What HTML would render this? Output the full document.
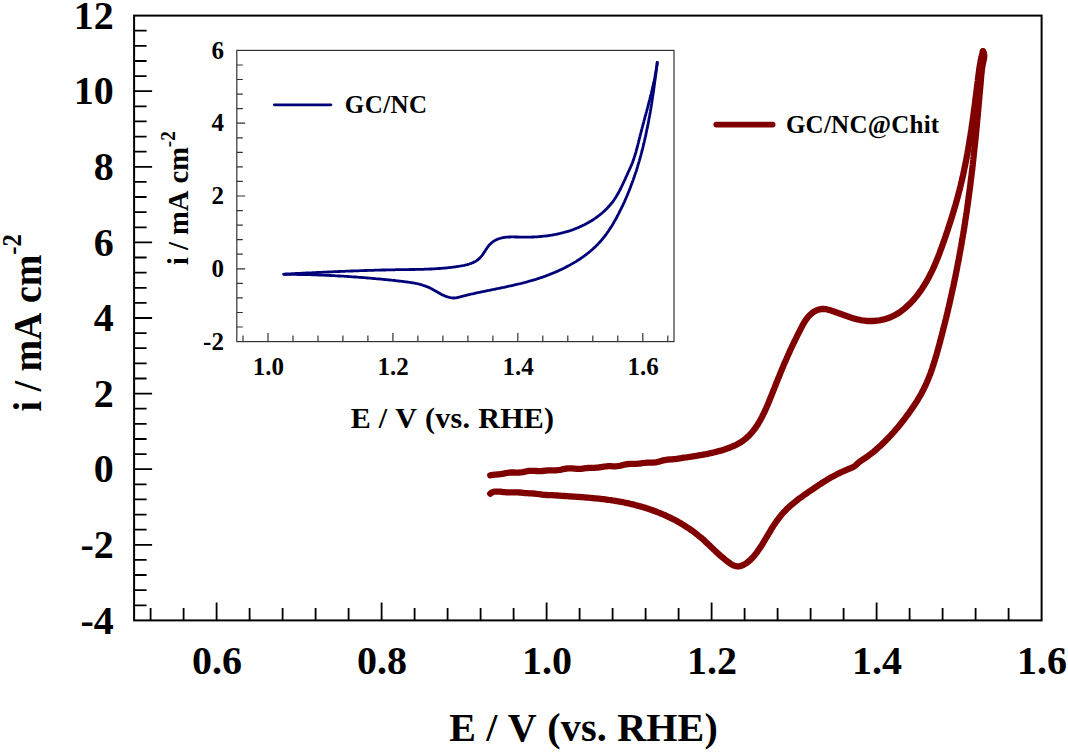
<!DOCTYPE html>
<html><head><meta charset="utf-8"><style>
html,body{margin:0;padding:0;background:#fff;}
svg{display:block;}
.t{font-family:'Liberation Serif', serif;font-weight:bold;fill:#000;font-kerning:none;}
</style></head><body>
<svg width="1068" height="752" viewBox="0 0 1068 752">
<rect x="134.1" y="15.6" width="907.5" height="604.8" fill="none" stroke="#000" stroke-width="2"/>
<path d="M150.6,620.4V607.9 M183.6,620.4V607.9 M216.6,620.4V602.4 M249.6,620.4V607.9 M282.6,620.4V607.9 M315.6,620.4V607.9 M348.6,620.4V607.9 M381.6,620.4V602.4 M414.6,620.4V607.9 M447.6,620.4V607.9 M480.6,620.4V607.9 M513.6,620.4V607.9 M546.6,620.4V602.4 M579.6,620.4V607.9 M612.6,620.4V607.9 M645.6,620.4V607.9 M678.6,620.4V607.9 M711.6,620.4V602.4 M744.6,620.4V607.9 M777.6,620.4V607.9 M810.6,620.4V607.9 M843.6,620.4V607.9 M876.6,620.4V602.4 M909.6,620.4V607.9 M942.6,620.4V607.9 M975.6,620.4V607.9 M1008.6,620.4V607.9 M134.1,605.3H146.6 M134.1,590.2H146.6 M134.1,575.0H146.6 M134.1,559.9H146.6 M134.1,544.8H152.1 M134.1,529.7H146.6 M134.1,514.6H146.6 M134.1,499.4H146.6 M134.1,484.3H146.6 M134.1,469.2H152.1 M134.1,454.1H146.6 M134.1,439.0H146.6 M134.1,423.8H146.6 M134.1,408.7H146.6 M134.1,393.6H152.1 M134.1,378.5H146.6 M134.1,363.4H146.6 M134.1,348.2H146.6 M134.1,333.1H146.6 M134.1,318.0H152.1 M134.1,302.9H146.6 M134.1,287.8H146.6 M134.1,272.6H146.6 M134.1,257.5H146.6 M134.1,242.4H152.1 M134.1,227.3H146.6 M134.1,212.2H146.6 M134.1,197.0H146.6 M134.1,181.9H146.6 M134.1,166.8H152.1 M134.1,151.7H146.6 M134.1,136.6H146.6 M134.1,121.4H146.6 M134.1,106.3H146.6 M134.1,91.2H152.1 M134.1,76.1H146.6 M134.1,61.0H146.6 M134.1,45.8H146.6 M134.1,30.7H146.6" stroke="#000" stroke-width="1.8" fill="none"/>
<text x="216.9" y="674.4" text-anchor="middle" class="t" style="font-size:40px">0.6</text>
<text x="381.9" y="674.4" text-anchor="middle" class="t" style="font-size:40px">0.8</text>
<text x="546.9" y="674.4" text-anchor="middle" class="t" style="font-size:40px">1.0</text>
<text x="711.9" y="674.4" text-anchor="middle" class="t" style="font-size:40px">1.2</text>
<text x="876.9" y="674.4" text-anchor="middle" class="t" style="font-size:40px">1.4</text>
<text x="1041.9" y="674.4" text-anchor="middle" class="t" style="font-size:40px">1.6</text>
<text x="113.8" y="633.6" text-anchor="end" class="t" style="font-size:40px">-4</text>
<text x="113.8" y="558.0" text-anchor="end" class="t" style="font-size:40px">-2</text>
<text x="113.8" y="482.4" text-anchor="end" class="t" style="font-size:40px">0</text>
<text x="113.8" y="406.8" text-anchor="end" class="t" style="font-size:40px">2</text>
<text x="113.8" y="331.2" text-anchor="end" class="t" style="font-size:40px">4</text>
<text x="113.8" y="255.6" text-anchor="end" class="t" style="font-size:40px">6</text>
<text x="113.8" y="180.0" text-anchor="end" class="t" style="font-size:40px">8</text>
<text x="113.8" y="104.4" text-anchor="end" class="t" style="font-size:40px">10</text>
<text x="113.8" y="28.8" text-anchor="end" class="t" style="font-size:40px">12</text>
<text x="449.2" y="740.5" class="t" style="font-size:40px;letter-spacing:0.22px">E / V (vs. RHE)</text>
<text transform="translate(40.8,411.4) rotate(-90)" class="t" style="font-size:40px" textLength="156.7" lengthAdjust="spacingAndGlyphs">i / mA cm</text>
<text transform="translate(21.3,254.7) rotate(-90)" class="t" style="font-size:27px" textLength="20.6" lengthAdjust="spacingAndGlyphs">-2</text>
<path d="M490.2,475.3 L491.6,475.0 L493.1,474.8 L494.6,474.7 L496.1,474.6 L497.5,474.4 L499.0,474.3 L500.5,474.1 L502.0,473.9 L503.5,473.6 L505.0,473.3 L506.5,473.0 L507.9,472.8 L509.4,472.6 L510.9,472.5 L512.4,472.5 L513.9,472.5 L515.4,472.6 L516.9,472.6 L518.4,472.6 L519.9,472.5 L521.3,472.3 L522.8,472.1 L524.3,471.8 L525.8,471.5 L527.3,471.2 L528.8,470.9 L530.3,470.8 L531.8,470.8 L533.3,470.8 L534.8,470.9 L536.3,471.0 L537.8,471.1 L539.3,471.1 L540.8,471.1 L542.3,471.0 L543.8,470.9 L545.3,470.7 L546.8,470.5 L548.3,470.4 L549.8,470.3 L551.3,470.3 L552.8,470.3 L554.3,470.3 L555.8,470.3 L557.3,470.2 L558.8,470.0 L560.3,469.8 L561.7,469.5 L563.2,469.2 L564.7,468.9 L566.2,468.6 L567.7,468.4 L569.2,468.3 L570.7,468.3 L572.2,468.4 L573.7,468.6 L575.2,468.7 L576.7,468.8 L578.2,468.9 L579.7,468.9 L581.2,468.8 L582.7,468.6 L584.2,468.4 L585.7,468.2 L587.2,468.0 L588.7,467.9 L590.2,467.8 L591.7,467.8 L593.2,467.8 L594.7,467.8 L596.2,467.7 L597.7,467.6 L599.2,467.4 L600.7,467.2 L602.2,467.0 L603.6,466.7 L605.1,466.5 L606.6,466.3 L608.1,466.2 L609.6,466.2 L611.1,466.2 L612.6,466.3 L614.1,466.3 L615.6,466.3 L617.1,466.2 L618.6,466.0 L620.1,465.8 L621.6,465.4 L623.1,465.0 L624.5,464.7 L626.0,464.4 L627.5,464.1 L629.0,464.0 L630.5,463.9 L632.0,463.9 L633.5,463.9 L635.0,463.9 L636.5,463.8 L638.0,463.7 L639.5,463.6 L640.9,463.4 L642.4,463.2 L643.9,463.0 L645.4,462.8 L646.9,462.7 L648.4,462.7 L649.9,462.6 L651.4,462.6 L652.9,462.6 L654.3,462.5 L655.8,462.3 L657.3,462.0 L658.8,461.7 L660.3,461.3 L661.8,460.8 L663.3,460.4 L664.7,460.1 L666.2,459.8 L667.7,459.6 L669.2,459.5 L670.7,459.4 L672.2,459.4 L673.7,459.2 L675.1,459.1 L676.6,458.9 L678.1,458.7 L679.6,458.4 L681.1,458.2 L682.6,457.9 L684.0,457.7 L685.5,457.5 L687.0,457.3 L688.5,457.0 L690.0,456.8 L691.4,456.6 L692.9,456.4 L694.4,456.1 L695.9,455.9 L697.4,455.6 L698.8,455.4 L700.3,455.1 L701.8,454.9 L703.3,454.6 L704.7,454.3 L706.2,454.1 L707.7,453.8 L709.1,453.5 L710.6,453.2 L712.1,452.8 L713.5,452.5 L715.0,452.2 L716.4,451.8 L717.9,451.4 L719.3,451.0 L720.8,450.6 L722.2,450.2 L723.7,449.7 L725.1,449.3 L726.5,448.8 L728.0,448.3 L729.4,447.8 L730.8,447.2 L732.2,446.6 L733.6,446.0 L735.0,445.4 L736.4,444.7 L737.7,444.0 L739.0,443.3 L740.3,442.5 L741.6,441.7 L742.8,440.9 L744.0,440.0 L745.1,439.1 L746.2,438.2 L747.3,437.2 L748.4,436.2 L749.4,435.2 L750.4,434.1 L751.4,433.0 L752.4,431.9 L753.3,430.7 L754.2,429.6 L755.1,428.4 L755.9,427.2 L756.7,426.0 L757.6,424.7 L758.3,423.4 L759.1,422.2 L759.9,420.9 L760.6,419.5 L761.3,418.2 L762.0,416.9 L762.7,415.5 L763.4,414.1 L764.1,412.8 L764.7,411.4 L765.3,410.0 L766.0,408.6 L766.6,407.2 L767.2,405.8 L767.8,404.4 L768.4,403.0 L769.0,401.5 L769.6,400.1 L770.1,398.7 L770.7,397.3 L771.3,395.9 L771.8,394.5 L772.4,393.1 L773.0,391.7 L773.5,390.3 L774.1,388.9 L774.6,387.5 L775.2,386.1 L775.7,384.7 L776.3,383.3 L776.8,382.0 L777.4,380.6 L777.9,379.2 L778.5,377.8 L779.1,376.4 L779.6,375.1 L780.2,373.7 L780.7,372.3 L781.3,371.0 L781.8,369.6 L782.4,368.2 L783.0,366.9 L783.5,365.5 L784.1,364.1 L784.7,362.8 L785.3,361.4 L785.9,360.0 L786.5,358.7 L787.1,357.3 L787.7,356.0 L788.3,354.6 L788.9,353.3 L789.5,351.9 L790.1,350.5 L790.7,349.2 L791.4,347.8 L792.0,346.5 L792.7,345.1 L793.3,343.8 L794.0,342.4 L794.6,341.0 L795.3,339.7 L796.0,338.3 L796.6,337.0 L797.3,335.6 L798.0,334.2 L798.7,332.8 L799.4,331.5 L800.1,330.1 L800.8,328.7 L801.5,327.4 L802.2,326.0 L802.9,324.6 L803.7,323.3 L804.5,322.0 L805.3,320.7 L806.1,319.5 L807.0,318.3 L807.9,317.1 L808.9,316.0 L809.9,315.0 L811.0,314.0 L812.1,313.1 L813.3,312.2 L814.5,311.4 L815.8,310.7 L817.2,310.1 L818.5,309.6 L819.9,309.3 L821.4,309.0 L822.8,308.9 L824.3,309.0 L825.8,309.2 L827.2,309.5 L828.7,309.9 L830.2,310.3 L831.6,310.8 L833.1,311.3 L834.5,311.8 L836.0,312.3 L837.4,312.8 L838.8,313.3 L840.2,313.8 L841.6,314.3 L843.0,314.8 L844.4,315.3 L845.8,315.8 L847.2,316.3 L848.7,316.8 L850.1,317.3 L851.5,317.7 L852.9,318.2 L854.4,318.6 L855.8,319.0 L857.2,319.4 L858.7,319.7 L860.2,320.0 L861.6,320.3 L863.1,320.5 L864.6,320.7 L866.1,320.9 L867.6,321.0 L869.1,321.0 L870.6,321.0 L872.1,321.0 L873.6,321.0 L875.1,320.9 L876.6,320.7 L878.1,320.5 L879.6,320.3 L881.1,320.0 L882.5,319.7 L884.0,319.4 L885.4,319.0 L886.9,318.5 L888.3,318.0 L889.7,317.5 L891.1,317.0 L892.4,316.3 L893.8,315.7 L895.1,315.0 L896.4,314.3 L897.7,313.5 L899.0,312.7 L900.2,311.9 L901.4,311.0 L902.6,310.1 L903.8,309.2 L905.0,308.2 L906.1,307.2 L907.2,306.2 L908.3,305.2 L909.4,304.2 L910.5,303.1 L911.5,302.0 L912.5,300.9 L913.6,299.8 L914.5,298.6 L915.5,297.5 L916.5,296.3 L917.4,295.1 L918.3,293.9 L919.2,292.7 L920.1,291.5 L920.9,290.3 L921.8,289.1 L922.6,287.8 L923.4,286.6 L924.2,285.3 L925.0,284.1 L925.7,282.8 L926.5,281.5 L927.2,280.2 L927.9,278.9 L928.7,277.6 L929.3,276.3 L930.0,274.9 L930.7,273.6 L931.4,272.3 L932.0,270.9 L932.7,269.6 L933.3,268.2 L933.9,266.9 L934.5,265.5 L935.1,264.1 L935.7,262.7 L936.3,261.3 L936.8,260.0 L937.4,258.6 L938.0,257.2 L938.5,255.8 L939.1,254.4 L939.6,253.0 L940.1,251.5 L940.6,250.1 L941.2,248.7 L941.7,247.3 L942.2,245.9 L942.7,244.5 L943.2,243.0 L943.7,241.6 L944.2,240.2 L944.7,238.8 L945.2,237.4 L945.7,235.9 L946.1,234.5 L946.6,233.1 L947.1,231.7 L947.6,230.2 L948.0,228.8 L948.5,227.4 L949.0,226.0 L949.4,224.5 L949.9,223.1 L950.4,221.7 L950.8,220.2 L951.3,218.8 L951.7,217.4 L952.2,216.0 L952.6,214.5 L953.0,213.1 L953.5,211.7 L953.9,210.2 L954.3,208.8 L954.7,207.4 L955.2,205.9 L955.6,204.5 L956.0,203.0 L956.4,201.6 L956.8,200.2 L957.2,198.7 L957.6,197.3 L958.0,195.8 L958.4,194.4 L958.7,192.9 L959.1,191.5 L959.5,190.1 L959.9,188.6 L960.2,187.2 L960.6,185.7 L960.9,184.3 L961.3,182.8 L961.6,181.3 L962.0,179.9 L962.3,178.4 L962.6,177.0 L963.0,175.5 L963.3,174.1 L963.6,172.6 L963.9,171.1 L964.2,169.7 L964.5,168.2 L964.8,166.7 L965.1,165.3 L965.4,163.8 L965.7,162.3 L966.0,160.9 L966.3,159.4 L966.6,157.9 L966.8,156.4 L967.1,155.0 L967.4,153.5 L967.6,152.0 L967.9,150.6 L968.2,149.1 L968.4,147.6 L968.7,146.1 L968.9,144.6 L969.2,143.2 L969.4,141.7 L969.6,140.2 L969.9,138.7 L970.1,137.3 L970.4,135.8 L970.6,134.3 L970.8,132.8 L971.0,131.3 L971.3,129.8 L971.5,128.4 L971.7,126.9 L971.9,125.4 L972.1,123.9 L972.4,122.4 L972.6,120.9 L972.8,119.4 L973.0,118.0 L973.2,116.5 L973.4,115.0 L973.6,113.5 L973.8,112.0 L974.0,110.5 L974.2,109.0 L974.4,107.6 L974.6,106.1 L974.8,104.6 L975.0,103.1 L975.2,101.6 L975.3,100.1 L975.5,98.6 L975.7,97.1 L975.9,95.7 L976.1,94.2 L976.3,92.7 L976.5,91.2 L976.7,89.7 L976.8,88.2 L977.0,86.7 L977.2,85.2 L977.4,83.8 L977.6,82.3 L977.8,80.8 L977.9,79.3 L978.1,77.8 L978.3,76.3 L978.5,74.8 L978.7,73.4 L978.9,71.9 L979.1,70.4 L979.3,68.9 L979.5,67.4 L979.8,66.0 L980.0,64.5 L980.3,63.0 L980.5,61.5 L980.8,60.1 L981.1,58.6 L981.5,57.1 L981.8,55.7 L982.2,54.2 L982.6,52.7 L983.0,51.3" stroke="#800000" stroke-width="6.3" fill="none" stroke-linecap="round" stroke-linejoin="round"/>
<path d="M983.0,51.3 L983.7,52.7 L984.1,54.1 L984.3,55.6 L984.2,57.0 L984.0,58.5 L983.7,60.0 L983.4,61.5 L983.0,62.9 L982.7,64.4 L982.5,65.9 L982.2,67.4 L982.0,68.9 L981.8,70.4 L981.7,71.9 L981.5,73.4 L981.3,74.8 L981.2,76.3 L981.1,77.8 L980.9,79.3 L980.8,80.8 L980.7,82.3 L980.6,83.8 L980.4,85.3 L980.3,86.8 L980.2,88.3 L980.0,89.8 L979.9,91.2 L979.8,92.7 L979.6,94.2 L979.5,95.7 L979.4,97.2 L979.2,98.7 L979.1,100.2 L979.0,101.7 L978.8,103.2 L978.7,104.7 L978.6,106.2 L978.4,107.6 L978.3,109.1 L978.2,110.6 L978.0,112.1 L977.9,113.6 L977.8,115.1 L977.6,116.6 L977.5,118.1 L977.3,119.6 L977.2,121.1 L977.1,122.6 L976.9,124.1 L976.8,125.5 L976.6,127.0 L976.5,128.5 L976.3,130.0 L976.2,131.5 L976.1,133.0 L975.9,134.5 L975.8,136.0 L975.6,137.5 L975.5,139.0 L975.3,140.5 L975.2,141.9 L975.0,143.4 L974.9,144.9 L974.7,146.4 L974.5,147.9 L974.4,149.4 L974.2,150.9 L974.1,152.4 L973.9,153.9 L973.7,155.4 L973.6,156.8 L973.4,158.3 L973.3,159.8 L973.1,161.3 L972.9,162.8 L972.8,164.3 L972.6,165.8 L972.4,167.3 L972.3,168.8 L972.1,170.2 L971.9,171.7 L971.7,173.2 L971.6,174.7 L971.4,176.2 L971.2,177.7 L971.0,179.2 L970.8,180.7 L970.6,182.1 L970.5,183.6 L970.3,185.1 L970.1,186.6 L969.9,188.1 L969.7,189.6 L969.5,191.1 L969.3,192.5 L969.1,194.0 L968.9,195.5 L968.7,197.0 L968.5,198.5 L968.3,200.0 L968.1,201.5 L967.9,202.9 L967.7,204.4 L967.5,205.9 L967.3,207.4 L967.1,208.9 L966.9,210.4 L966.7,211.8 L966.4,213.3 L966.2,214.8 L966.0,216.3 L965.8,217.8 L965.5,219.2 L965.3,220.7 L965.1,222.2 L964.9,223.7 L964.6,225.2 L964.4,226.6 L964.2,228.1 L963.9,229.6 L963.7,231.1 L963.4,232.6 L963.2,234.0 L962.9,235.5 L962.7,237.0 L962.4,238.5 L962.2,239.9 L961.9,241.4 L961.7,242.9 L961.4,244.4 L961.2,245.8 L960.9,247.3 L960.6,248.8 L960.4,250.3 L960.1,251.7 L959.8,253.2 L959.6,254.7 L959.3,256.2 L959.0,257.6 L958.8,259.1 L958.5,260.6 L958.2,262.1 L957.9,263.5 L957.6,265.0 L957.3,266.5 L957.1,267.9 L956.8,269.4 L956.5,270.9 L956.2,272.3 L955.9,273.8 L955.6,275.3 L955.3,276.8 L955.0,278.2 L954.7,279.7 L954.4,281.2 L954.1,282.6 L953.8,284.1 L953.5,285.6 L953.2,287.0 L952.8,288.5 L952.5,289.9 L952.2,291.4 L951.9,292.9 L951.6,294.3 L951.2,295.8 L950.9,297.3 L950.6,298.7 L950.3,300.2 L949.9,301.6 L949.6,303.1 L949.3,304.6 L948.9,306.0 L948.6,307.5 L948.2,308.9 L947.9,310.4 L947.6,311.9 L947.2,313.3 L946.9,314.8 L946.5,316.2 L946.2,317.7 L945.8,319.2 L945.4,320.6 L945.1,322.1 L944.7,323.5 L944.4,325.0 L944.0,326.4 L943.6,327.9 L943.3,329.3 L942.9,330.8 L942.5,332.2 L942.2,333.7 L941.8,335.1 L941.4,336.6 L941.0,338.0 L940.6,339.5 L940.3,340.9 L939.9,342.4 L939.5,343.8 L939.1,345.3 L938.7,346.7 L938.3,348.2 L937.9,349.6 L937.5,351.1 L937.1,352.5 L936.7,354.0 L936.3,355.4 L935.9,356.8 L935.4,358.3 L935.0,359.7 L934.6,361.1 L934.1,362.6 L933.7,364.0 L933.2,365.4 L932.7,366.8 L932.3,368.2 L931.8,369.7 L931.3,371.1 L930.8,372.5 L930.3,373.9 L929.7,375.3 L929.2,376.7 L928.6,378.0 L928.1,379.4 L927.5,380.8 L926.9,382.2 L926.3,383.5 L925.7,384.9 L925.1,386.3 L924.4,387.6 L923.8,389.0 L923.1,390.3 L922.4,391.6 L921.7,392.9 L921.0,394.3 L920.2,395.6 L919.5,396.9 L918.7,398.2 L917.9,399.5 L917.2,400.8 L916.4,402.0 L915.5,403.3 L914.7,404.6 L913.9,405.8 L913.0,407.1 L912.2,408.3 L911.3,409.6 L910.4,410.8 L909.6,412.0 L908.7,413.3 L907.8,414.5 L906.9,415.7 L906.0,416.9 L905.1,418.1 L904.2,419.3 L903.3,420.5 L902.4,421.7 L901.4,422.8 L900.5,424.0 L899.6,425.2 L898.6,426.3 L897.7,427.5 L896.7,428.6 L895.7,429.8 L894.8,430.9 L893.8,432.0 L892.8,433.1 L891.8,434.2 L890.8,435.3 L889.8,436.4 L888.8,437.5 L887.7,438.6 L886.7,439.6 L885.6,440.7 L884.6,441.7 L883.5,442.8 L882.4,443.8 L881.4,444.9 L880.3,445.9 L879.1,446.9 L878.0,447.9 L876.9,448.9 L875.8,449.9 L874.6,450.8 L873.5,451.8 L872.3,452.8 L871.1,453.7 L869.9,454.6 L868.7,455.5 L867.5,456.4 L866.2,457.3 L865.0,458.1 L863.8,458.9 L862.5,459.7 L861.3,460.6 L860.1,461.4 L858.9,462.4 L857.8,463.3 L856.7,464.4 L855.6,465.4 L854.5,466.3 L853.2,467.0 L851.9,467.6 L850.6,468.2 L849.2,468.7 L847.8,469.3 L846.5,469.9 L845.1,470.5 L843.8,471.1 L842.4,471.7 L841.0,472.3 L839.7,473.0 L838.3,473.6 L837.0,474.3 L835.7,475.0 L834.3,475.7 L833.0,476.4 L831.7,477.1 L830.4,477.8 L829.1,478.6 L827.8,479.3 L826.6,480.1 L825.3,480.9 L824.0,481.7 L822.8,482.5 L821.5,483.3 L820.3,484.1 L819.0,484.9 L817.8,485.8 L816.5,486.6 L815.3,487.4 L814.0,488.3 L812.8,489.1 L811.5,490.0 L810.3,490.8 L809.0,491.7 L807.8,492.5 L806.6,493.4 L805.3,494.2 L804.1,495.1 L802.9,496.0 L801.7,496.9 L800.4,497.7 L799.2,498.6 L798.0,499.5 L796.8,500.5 L795.7,501.4 L794.5,502.3 L793.3,503.3 L792.2,504.2 L791.1,505.2 L790.0,506.2 L788.9,507.2 L787.8,508.2 L786.7,509.2 L785.7,510.3 L784.6,511.3 L783.6,512.4 L782.6,513.5 L781.6,514.6 L780.7,515.8 L779.8,516.9 L778.9,518.1 L778.0,519.3 L777.1,520.5 L776.2,521.7 L775.4,522.9 L774.6,524.2 L773.7,525.4 L772.9,526.7 L772.1,527.9 L771.3,529.2 L770.6,530.5 L769.8,531.8 L769.0,533.1 L768.2,534.4 L767.5,535.7 L766.7,537.0 L765.9,538.3 L765.1,539.6 L764.4,540.9 L763.6,542.2 L762.8,543.5 L762.0,544.8 L761.2,546.1 L760.3,547.4 L759.5,548.6 L758.6,549.9 L757.8,551.1 L756.9,552.4 L756.0,553.6 L755.0,554.8 L754.1,555.9 L753.1,557.1 L752.1,558.2 L751.0,559.2 L750.0,560.3 L748.8,561.2 L747.7,562.2 L746.5,563.1 L745.2,563.9 L744.0,564.6 L742.6,565.3 L741.3,565.8 L740.0,566.2 L738.6,566.4 L737.2,566.4 L735.8,566.1 L734.5,565.7 L733.1,565.2 L731.7,564.5 L730.4,563.6 L729.1,562.7 L727.8,561.8 L726.5,560.7 L725.2,559.7 L724.0,558.7 L722.9,557.7 L721.7,556.8 L720.6,555.8 L719.5,554.8 L718.4,553.9 L717.4,552.9 L716.3,552.0 L715.3,551.0 L714.2,550.0 L713.2,549.0 L712.1,548.0 L711.1,547.0 L710.0,545.9 L708.9,544.9 L707.8,543.8 L706.7,542.8 L705.6,541.8 L704.5,540.7 L703.4,539.7 L702.2,538.7 L701.1,537.7 L699.9,536.8 L698.7,535.8 L697.6,534.9 L696.4,533.9 L695.2,533.0 L694.0,532.1 L692.8,531.2 L691.6,530.3 L690.3,529.5 L689.1,528.6 L687.8,527.8 L686.6,527.0 L685.3,526.2 L684.1,525.4 L682.8,524.6 L681.5,523.8 L680.2,523.0 L678.9,522.3 L677.6,521.6 L676.3,520.8 L675.0,520.1 L673.7,519.4 L672.3,518.8 L671.0,518.1 L669.6,517.4 L668.3,516.8 L666.9,516.2 L665.6,515.5 L664.2,514.9 L662.8,514.3 L661.4,513.7 L660.1,513.2 L658.7,512.6 L657.3,512.1 L655.9,511.5 L654.5,511.0 L653.1,510.5 L651.7,510.0 L650.2,509.5 L648.8,509.0 L647.4,508.5 L646.0,508.1 L644.5,507.6 L643.1,507.2 L641.7,506.8 L640.2,506.4 L638.8,506.0 L637.3,505.6 L635.9,505.2 L634.4,504.8 L633.0,504.4 L631.5,504.1 L630.1,503.8 L628.6,503.4 L627.2,503.1 L625.7,502.8 L624.2,502.5 L622.8,502.2 L621.3,501.9 L619.8,501.7 L618.4,501.4 L616.9,501.2 L615.4,500.9 L613.9,500.7 L612.4,500.5 L611.0,500.2 L609.5,500.0 L608.0,499.8 L606.5,499.6 L605.0,499.4 L603.6,499.2 L602.1,499.1 L600.6,498.9 L599.1,498.7 L597.6,498.6 L596.1,498.4 L594.6,498.3 L593.1,498.1 L591.6,498.0 L590.1,497.8 L588.6,497.7 L587.2,497.6 L585.7,497.5 L584.2,497.3 L582.7,497.2 L581.2,497.1 L579.7,497.0 L578.2,496.9 L576.7,496.8 L575.2,496.7 L573.7,496.6 L572.2,496.5 L570.7,496.4 L569.2,496.3 L567.7,496.2 L566.2,496.1 L564.7,496.0 L563.2,495.9 L561.7,495.8 L560.2,495.7 L558.7,495.6 L557.2,495.5 L555.7,495.4 L554.2,495.3 L552.7,495.2 L551.2,495.1 L549.7,495.1 L548.2,495.1 L546.7,495.0 L545.2,494.9 L543.7,494.8 L542.2,494.6 L540.7,494.4 L539.3,494.2 L537.8,494.0 L536.3,493.8 L534.8,493.6 L533.3,493.5 L531.8,493.4 L530.3,493.3 L528.8,493.3 L527.3,493.2 L525.8,493.1 L524.3,493.0 L522.9,492.8 L521.4,492.6 L519.9,492.5 L518.4,492.4 L516.9,492.3 L515.4,492.3 L513.9,492.3 L512.4,492.3 L510.9,492.4 L509.4,492.4 L507.9,492.4 L506.4,492.3 L504.9,492.2 L503.4,492.1 L501.9,491.9 L500.4,491.7 L498.9,491.6 L497.4,491.6 L495.9,491.6 L494.4,491.7 L493.0,492.0 L491.5,492.7 L490.2,493.7" stroke="#800000" stroke-width="6.3" fill="none" stroke-linecap="round" stroke-linejoin="round"/>
<line x1="716.3" y1="124.6" x2="772.6" y2="124.6" stroke="#800000" stroke-width="5.8" stroke-linecap="round"/>
<text x="785.9" y="133.3" class="t" style="font-size:25px;letter-spacing:0.25px">GC/NC@Chit</text>
<rect x="236.8" y="50.4" width="437.2" height="291.2" fill="#fff" stroke="#333" stroke-width="1.2"/>
<path d="M243.0,341.6V335.6 M268.0,341.6V333.1 M293.0,341.6V335.6 M318.0,341.6V335.6 M342.9,341.6V335.6 M367.9,341.6V335.6 M392.9,341.6V333.1 M417.9,341.6V335.6 M442.9,341.6V335.6 M467.9,341.6V335.6 M492.9,341.6V335.6 M517.8,341.6V333.1 M542.8,341.6V335.6 M567.8,341.6V335.6 M592.8,341.6V335.6 M617.8,341.6V335.6 M642.8,341.6V333.1 M667.8,341.6V335.6 M236.8,327.0H242.8 M236.8,312.5H242.8 M236.8,297.9H242.8 M236.8,283.4H242.8 M236.8,268.8H245.2 M236.8,254.2H242.8 M236.8,239.7H242.8 M236.8,225.1H242.8 M236.8,210.6H242.8 M236.8,196.0H245.2 M236.8,181.4H242.8 M236.8,166.9H242.8 M236.8,152.3H242.8 M236.8,137.8H242.8 M236.8,123.2H245.2 M236.8,108.6H242.8 M236.8,94.1H242.8 M236.8,79.5H242.8 M236.8,65.0H242.8" stroke="#333" stroke-width="1.2" fill="none"/>
<text x="268.3" y="375.2" text-anchor="middle" class="t" style="font-size:25px">1.0</text>
<text x="393.2" y="375.2" text-anchor="middle" class="t" style="font-size:25px">1.2</text>
<text x="518.1" y="375.2" text-anchor="middle" class="t" style="font-size:25px">1.4</text>
<text x="643.1" y="375.2" text-anchor="middle" class="t" style="font-size:25px">1.6</text>
<text x="223.9" y="349.8" text-anchor="end" class="t" style="font-size:25px">-2</text>
<text x="223.9" y="277.0" text-anchor="end" class="t" style="font-size:25px">0</text>
<text x="223.9" y="204.2" text-anchor="end" class="t" style="font-size:25px">2</text>
<text x="223.9" y="131.4" text-anchor="end" class="t" style="font-size:25px">4</text>
<text x="223.9" y="58.6" text-anchor="end" class="t" style="font-size:25px">6</text>
<text x="350.7" y="428.3" class="t" style="font-size:30px;letter-spacing:0.3px">E / V (vs. RHE)</text>
<text transform="translate(187.8,265.1) rotate(-90)" class="t" style="font-size:30px" textLength="118.2" lengthAdjust="spacingAndGlyphs">i / mA cm</text>
<text transform="translate(174.5,147.2) rotate(-90)" class="t" style="font-size:20.4px" textLength="15.9" lengthAdjust="spacingAndGlyphs">-2</text>
<path d="M283.8,274.2 L284.8,274.1 L285.8,274.0 L286.8,274.0 L287.8,273.9 L288.8,273.9 L289.8,273.8 L290.8,273.8 L291.8,273.7 L292.8,273.7 L293.8,273.6 L294.8,273.6 L295.8,273.5 L296.8,273.5 L297.8,273.4 L298.8,273.4 L299.8,273.3 L300.8,273.3 L301.8,273.2 L302.8,273.2 L303.8,273.1 L304.8,273.1 L305.8,273.0 L306.8,273.0 L307.8,272.9 L308.8,272.9 L309.8,272.9 L310.8,272.8 L311.8,272.8 L312.8,272.7 L313.8,272.7 L314.8,272.6 L315.8,272.6 L316.8,272.5 L317.8,272.5 L318.8,272.4 L319.8,272.4 L320.8,272.3 L321.7,272.3 L322.7,272.2 L323.7,272.2 L324.7,272.1 L325.7,272.1 L326.7,272.1 L327.7,272.0 L328.7,272.0 L329.7,271.9 L330.7,271.9 L331.7,271.8 L332.7,271.8 L333.7,271.7 L334.7,271.7 L335.7,271.7 L336.7,271.6 L337.7,271.6 L338.7,271.5 L339.7,271.5 L340.7,271.4 L341.7,271.4 L342.7,271.4 L343.7,271.3 L344.7,271.3 L345.7,271.2 L346.7,271.2 L347.7,271.2 L348.7,271.1 L349.7,271.1 L350.7,271.0 L351.7,271.0 L352.7,271.0 L353.7,270.9 L354.7,270.9 L355.7,270.9 L356.7,270.8 L357.7,270.8 L358.7,270.8 L359.7,270.7 L360.7,270.7 L361.7,270.6 L362.7,270.6 L363.6,270.6 L364.6,270.5 L365.6,270.5 L366.6,270.5 L367.6,270.4 L368.6,270.4 L369.6,270.4 L370.6,270.4 L371.6,270.3 L372.6,270.3 L373.6,270.3 L374.6,270.2 L375.6,270.2 L376.6,270.2 L377.6,270.2 L378.6,270.1 L379.6,270.1 L380.6,270.1 L381.6,270.0 L382.6,270.0 L383.6,270.0 L384.6,270.0 L385.6,270.0 L386.6,269.9 L387.6,269.9 L388.6,269.9 L389.6,269.9 L390.6,269.8 L391.6,269.8 L392.6,269.8 L393.6,269.8 L394.6,269.8 L395.6,269.7 L396.6,269.7 L397.6,269.7 L398.6,269.7 L399.6,269.7 L400.6,269.7 L401.6,269.7 L402.6,269.6 L403.6,269.6 L404.6,269.6 L405.6,269.6 L406.6,269.6 L407.6,269.6 L408.6,269.6 L409.7,269.5 L410.7,269.5 L411.7,269.5 L412.7,269.5 L413.7,269.5 L414.7,269.5 L415.7,269.4 L416.7,269.4 L417.7,269.4 L418.7,269.4 L419.7,269.4 L420.7,269.3 L421.7,269.3 L422.7,269.3 L423.7,269.3 L424.7,269.2 L425.7,269.2 L426.7,269.2 L427.7,269.1 L428.7,269.1 L429.7,269.0 L430.7,269.0 L431.7,269.0 L432.7,268.9 L433.7,268.9 L434.7,268.8 L435.7,268.7 L436.7,268.7 L437.7,268.6 L438.7,268.5 L439.7,268.5 L440.7,268.4 L441.7,268.3 L442.7,268.2 L443.7,268.2 L444.7,268.1 L445.7,268.0 L446.7,267.9 L447.7,267.8 L448.6,267.7 L449.6,267.6 L450.6,267.4 L451.6,267.3 L452.6,267.2 L453.6,267.1 L454.6,266.9 L455.6,266.8 L456.6,266.6 L457.6,266.5 L458.6,266.3 L459.6,266.2 L460.5,266.0 L461.5,265.8 L462.5,265.7 L463.5,265.5 L464.5,265.3 L465.4,265.0 L466.4,264.8 L467.4,264.6 L468.3,264.3 L469.3,264.0 L470.2,263.7 L471.1,263.4 L472.0,263.0 L472.9,262.7 L473.7,262.3 L474.6,261.8 L475.4,261.4 L476.2,260.9 L477.0,260.3 L477.8,259.8 L478.6,259.2 L479.3,258.5 L480.0,257.9 L480.7,257.1 L481.3,256.4 L481.9,255.6 L482.6,254.8 L483.1,253.9 L483.7,253.0 L484.3,252.1 L484.9,251.3 L485.4,250.4 L486.0,249.5 L486.6,248.6 L487.2,247.7 L487.8,246.9 L488.4,246.1 L489.0,245.3 L489.7,244.6 L490.4,243.9 L491.1,243.2 L491.9,242.6 L492.6,242.0 L493.4,241.4 L494.2,240.9 L495.0,240.4 L495.8,240.0 L496.7,239.6 L497.6,239.2 L498.5,238.8 L499.4,238.5 L500.3,238.3 L501.2,238.0 L502.1,237.8 L503.1,237.6 L504.0,237.5 L505.0,237.3 L506.0,237.2 L506.9,237.1 L507.9,237.1 L508.9,237.0 L509.9,237.0 L511.0,236.9 L512.0,236.9 L513.0,236.9 L514.0,236.9 L515.0,237.0 L516.1,237.0 L517.1,237.0 L518.1,237.0 L519.2,237.1 L520.2,237.1 L521.2,237.1 L522.2,237.1 L523.3,237.1 L524.3,237.2 L525.3,237.2 L526.3,237.2 L527.4,237.1 L528.4,237.1 L529.4,237.1 L530.4,237.1 L531.4,237.1 L532.4,237.0 L533.4,237.0 L534.5,236.9 L535.5,236.9 L536.5,236.8 L537.5,236.8 L538.5,236.7 L539.5,236.6 L540.5,236.5 L541.5,236.4 L542.5,236.3 L543.5,236.2 L544.5,236.1 L545.4,236.0 L546.4,235.9 L547.4,235.8 L548.4,235.6 L549.4,235.5 L550.4,235.3 L551.4,235.2 L552.3,235.0 L553.3,234.9 L554.3,234.7 L555.3,234.5 L556.2,234.3 L557.2,234.1 L558.2,233.9 L559.1,233.7 L560.1,233.5 L561.1,233.2 L562.0,233.0 L563.0,232.7 L563.9,232.5 L564.9,232.2 L565.8,231.9 L566.8,231.7 L567.7,231.4 L568.7,231.1 L569.6,230.8 L570.6,230.5 L571.5,230.1 L572.5,229.8 L573.4,229.5 L574.3,229.1 L575.3,228.7 L576.2,228.4 L577.1,228.0 L578.1,227.6 L579.0,227.2 L579.9,226.8 L580.8,226.4 L581.7,226.0 L582.6,225.5 L583.5,225.1 L584.4,224.7 L585.3,224.2 L586.2,223.7 L587.1,223.3 L588.0,222.8 L588.9,222.3 L589.7,221.8 L590.6,221.3 L591.5,220.7 L592.3,220.2 L593.2,219.7 L594.0,219.1 L594.8,218.6 L595.6,218.0 L596.5,217.4 L597.3,216.8 L598.1,216.2 L598.9,215.6 L599.7,215.0 L600.4,214.4 L601.2,213.8 L602.0,213.1 L602.7,212.5 L603.5,211.8 L604.2,211.1 L604.9,210.5 L605.6,209.8 L606.4,209.1 L607.1,208.4 L607.7,207.6 L608.4,206.9 L609.1,206.2 L609.7,205.4 L610.4,204.7 L611.0,203.9 L611.6,203.1 L612.3,202.4 L612.9,201.6 L613.4,200.8 L614.0,200.0 L614.6,199.1 L615.1,198.3 L615.7,197.5 L616.2,196.6 L616.7,195.8 L617.2,194.9 L617.7,194.1 L618.2,193.2 L618.7,192.3 L619.2,191.4 L619.7,190.5 L620.1,189.6 L620.6,188.7 L621.0,187.8 L621.5,186.9 L621.9,186.0 L622.3,185.1 L622.8,184.2 L623.2,183.3 L623.6,182.3 L624.1,181.4 L624.5,180.5 L624.9,179.6 L625.3,178.7 L625.7,177.7 L626.1,176.8 L626.6,175.9 L627.0,175.0 L627.4,174.1 L627.8,173.2 L628.2,172.3 L628.6,171.4 L629.1,170.4 L629.5,169.5 L629.9,168.6 L630.3,167.7 L630.7,166.8 L631.1,165.9 L631.5,165.0 L631.8,164.1 L632.2,163.2 L632.6,162.2 L632.9,161.3 L633.3,160.4 L633.6,159.4 L633.9,158.5 L634.2,157.6 L634.5,156.6 L634.8,155.7 L635.1,154.7 L635.4,153.8 L635.7,152.8 L636.0,151.8 L636.2,150.9 L636.5,149.9 L636.8,149.0 L637.0,148.0 L637.3,147.0 L637.5,146.0 L637.8,145.1 L638.0,144.1 L638.3,143.1 L638.5,142.2 L638.8,141.2 L639.0,140.2 L639.2,139.2 L639.5,138.3 L639.7,137.3 L640.0,136.3 L640.2,135.4 L640.5,134.4 L640.7,133.4 L641.0,132.4 L641.2,131.5 L641.5,130.5 L641.7,129.5 L642.0,128.6 L642.2,127.6 L642.5,126.6 L642.7,125.7 L643.0,124.7 L643.3,123.7 L643.5,122.8 L643.8,121.8 L644.0,120.8 L644.3,119.9 L644.6,118.9 L644.8,117.9 L645.1,117.0 L645.3,116.0 L645.6,115.0 L645.9,114.1 L646.1,113.1 L646.4,112.1 L646.6,111.2 L646.9,110.2 L647.2,109.3 L647.4,108.3 L647.7,107.3 L647.9,106.4 L648.2,105.4 L648.4,104.4 L648.7,103.5 L648.9,102.5 L649.2,101.5 L649.4,100.6 L649.7,99.6 L649.9,98.6 L650.2,97.7 L650.4,96.7 L650.7,95.7 L650.9,94.8 L651.2,93.8 L651.4,92.8 L651.6,91.9 L651.9,90.9 L652.1,89.9 L652.3,88.9 L652.5,88.0 L652.8,87.0 L653.0,86.0 L653.2,85.0 L653.4,84.1 L653.6,83.1 L653.8,82.1 L654.1,81.1 L654.3,80.2 L654.5,79.2 L654.7,78.2 L654.9,77.2 L655.0,76.2 L655.2,75.3 L655.4,74.3 L655.6,73.3 L655.8,72.3 L655.9,71.3 L656.1,70.3 L656.3,69.4 L656.4,68.4 L656.6,67.4 L656.8,66.4 L656.9,65.4 L657.1,64.4 L657.2,63.4 L657.3,62.4" stroke="#000078" stroke-width="2.8" fill="none" stroke-linecap="round" stroke-linejoin="round"/>
<path d="M657.2,62.3 L657.1,63.3 L657.0,64.3 L656.9,65.3 L656.8,66.3 L656.6,67.3 L656.5,68.3 L656.4,69.3 L656.3,70.3 L656.2,71.3 L656.0,72.3 L655.9,73.3 L655.8,74.3 L655.7,75.3 L655.5,76.3 L655.4,77.3 L655.3,78.3 L655.1,79.3 L655.0,80.2 L654.9,81.2 L654.7,82.2 L654.6,83.2 L654.5,84.2 L654.3,85.2 L654.2,86.2 L654.1,87.2 L653.9,88.2 L653.8,89.2 L653.7,90.2 L653.5,91.2 L653.4,92.2 L653.2,93.1 L653.1,94.1 L652.9,95.1 L652.8,96.1 L652.6,97.1 L652.5,98.1 L652.3,99.1 L652.2,100.1 L652.0,101.1 L651.9,102.1 L651.7,103.1 L651.6,104.0 L651.4,105.0 L651.3,106.0 L651.1,107.0 L650.9,108.0 L650.8,109.0 L650.6,110.0 L650.4,111.0 L650.3,111.9 L650.1,112.9 L649.9,113.9 L649.7,114.9 L649.6,115.9 L649.4,116.9 L649.2,117.8 L649.0,118.8 L648.8,119.8 L648.7,120.8 L648.5,121.8 L648.3,122.8 L648.1,123.7 L647.9,124.7 L647.7,125.7 L647.5,126.7 L647.3,127.7 L647.1,128.6 L646.9,129.6 L646.7,130.6 L646.5,131.6 L646.3,132.5 L646.1,133.5 L645.9,134.5 L645.7,135.5 L645.5,136.4 L645.2,137.4 L645.0,138.4 L644.8,139.4 L644.6,140.3 L644.4,141.3 L644.1,142.3 L643.9,143.3 L643.7,144.2 L643.4,145.2 L643.2,146.2 L643.0,147.1 L642.7,148.1 L642.5,149.1 L642.2,150.0 L642.0,151.0 L641.7,152.0 L641.5,152.9 L641.2,153.9 L641.0,154.8 L640.7,155.8 L640.4,156.8 L640.2,157.7 L639.9,158.7 L639.6,159.6 L639.4,160.6 L639.1,161.6 L638.8,162.5 L638.5,163.5 L638.2,164.4 L637.9,165.4 L637.7,166.3 L637.4,167.3 L637.1,168.2 L636.8,169.2 L636.5,170.1 L636.2,171.1 L635.9,172.0 L635.5,173.0 L635.2,173.9 L634.9,174.9 L634.6,175.8 L634.3,176.7 L633.9,177.7 L633.6,178.6 L633.3,179.6 L633.0,180.5 L632.6,181.5 L632.3,182.4 L631.9,183.3 L631.6,184.3 L631.2,185.2 L630.9,186.1 L630.5,187.1 L630.2,188.0 L629.8,188.9 L629.4,189.9 L629.1,190.8 L628.7,191.7 L628.3,192.6 L627.9,193.6 L627.6,194.5 L627.2,195.4 L626.8,196.3 L626.4,197.3 L626.0,198.2 L625.6,199.1 L625.2,200.0 L624.8,200.9 L624.4,201.8 L623.9,202.8 L623.5,203.7 L623.1,204.6 L622.7,205.5 L622.3,206.4 L621.8,207.3 L621.4,208.2 L620.9,209.1 L620.5,210.0 L620.0,210.9 L619.6,211.8 L619.1,212.7 L618.7,213.6 L618.2,214.5 L617.7,215.4 L617.3,216.3 L616.8,217.2 L616.3,218.1 L615.8,219.0 L615.3,219.9 L614.8,220.8 L614.3,221.6 L613.8,222.5 L613.3,223.4 L612.8,224.2 L612.3,225.1 L611.8,226.0 L611.2,226.8 L610.7,227.7 L610.1,228.5 L609.6,229.4 L609.0,230.2 L608.5,231.0 L607.9,231.8 L607.3,232.7 L606.7,233.5 L606.2,234.3 L605.6,235.1 L605.0,235.9 L604.4,236.7 L603.7,237.5 L603.1,238.2 L602.5,239.0 L601.9,239.8 L601.2,240.5 L600.6,241.3 L599.9,242.0 L599.2,242.7 L598.6,243.4 L597.9,244.2 L597.2,244.9 L596.5,245.6 L595.8,246.3 L595.1,246.9 L594.4,247.6 L593.6,248.3 L592.9,249.0 L592.2,249.6 L591.4,250.3 L590.7,250.9 L589.9,251.5 L589.2,252.2 L588.4,252.8 L587.6,253.4 L586.8,254.0 L586.1,254.6 L585.3,255.2 L584.5,255.8 L583.7,256.4 L582.9,257.0 L582.0,257.5 L581.2,258.1 L580.4,258.7 L579.6,259.2 L578.7,259.8 L577.9,260.3 L577.1,260.8 L576.2,261.4 L575.4,261.9 L574.5,262.4 L573.7,262.9 L572.8,263.4 L571.9,263.9 L571.0,264.4 L570.2,264.9 L569.3,265.4 L568.4,265.9 L567.5,266.3 L566.6,266.8 L565.7,267.3 L564.8,267.7 L563.9,268.2 L563.0,268.6 L562.1,269.1 L561.2,269.5 L560.3,269.9 L559.4,270.3 L558.5,270.8 L557.5,271.2 L556.6,271.6 L555.7,272.0 L554.8,272.4 L553.8,272.8 L552.9,273.2 L552.0,273.5 L551.0,273.9 L550.1,274.3 L549.2,274.7 L548.2,275.0 L547.3,275.4 L546.3,275.7 L545.4,276.1 L544.5,276.4 L543.5,276.7 L542.6,277.1 L541.6,277.4 L540.7,277.7 L539.7,278.0 L538.8,278.4 L537.8,278.7 L536.8,279.0 L535.9,279.3 L534.9,279.6 L534.0,279.8 L533.0,280.1 L532.1,280.4 L531.1,280.7 L530.2,281.0 L529.2,281.2 L528.2,281.5 L527.3,281.8 L526.3,282.0 L525.4,282.3 L524.4,282.5 L523.4,282.8 L522.5,283.0 L521.5,283.3 L520.5,283.5 L519.6,283.8 L518.6,284.0 L517.6,284.2 L516.7,284.5 L515.7,284.7 L514.7,284.9 L513.8,285.1 L512.8,285.4 L511.8,285.6 L510.9,285.8 L509.9,286.0 L508.9,286.2 L507.9,286.4 L507.0,286.6 L506.0,286.8 L505.0,287.1 L504.1,287.3 L503.1,287.5 L502.1,287.7 L501.1,287.9 L500.2,288.1 L499.2,288.3 L498.2,288.5 L497.2,288.7 L496.2,288.9 L495.3,289.1 L494.3,289.3 L493.3,289.5 L492.3,289.7 L491.3,289.9 L490.4,290.1 L489.4,290.3 L488.4,290.5 L487.4,290.7 L486.4,290.9 L485.5,291.1 L484.5,291.3 L483.5,291.5 L482.5,291.7 L481.5,291.9 L480.5,292.1 L479.6,292.3 L478.6,292.5 L477.6,292.7 L476.6,292.9 L475.6,293.1 L474.7,293.3 L473.7,293.6 L472.7,293.8 L471.7,294.0 L470.7,294.2 L469.8,294.5 L468.8,294.7 L467.8,294.9 L466.8,295.2 L465.9,295.4 L464.9,295.7 L463.9,295.9 L462.9,296.2 L462.0,296.4 L461.0,296.7 L460.0,297.0 L459.1,297.2 L458.1,297.4 L457.1,297.6 L456.2,297.8 L455.2,297.9 L454.3,298.0 L453.3,298.0 L452.3,297.9 L451.4,297.8 L450.4,297.7 L449.5,297.5 L448.5,297.2 L447.6,297.0 L446.7,296.7 L445.8,296.3 L444.8,295.9 L443.9,295.5 L443.0,295.1 L442.1,294.7 L441.2,294.2 L440.4,293.7 L439.5,293.2 L438.6,292.7 L437.7,292.2 L436.8,291.7 L435.9,291.2 L435.0,290.7 L434.1,290.2 L433.2,289.7 L432.4,289.2 L431.5,288.7 L430.5,288.3 L429.6,287.8 L428.7,287.4 L427.8,287.0 L426.9,286.6 L425.9,286.3 L425.0,285.9 L424.1,285.6 L423.1,285.3 L422.2,285.0 L421.2,284.7 L420.3,284.5 L419.3,284.2 L418.3,284.0 L417.4,283.7 L416.4,283.5 L415.4,283.3 L414.4,283.1 L413.4,282.9 L412.5,282.8 L411.5,282.6 L410.5,282.5 L409.5,282.3 L408.5,282.2 L407.5,282.0 L406.5,281.9 L405.5,281.8 L404.5,281.7 L403.5,281.5 L402.5,281.4 L401.5,281.3 L400.5,281.2 L399.5,281.1 L398.5,281.0 L397.5,280.9 L396.5,280.8 L395.6,280.6 L394.6,280.5 L393.6,280.4 L392.6,280.3 L391.6,280.2 L390.6,280.1 L389.6,280.0 L388.6,279.9 L387.6,279.8 L386.6,279.7 L385.6,279.6 L384.6,279.5 L383.6,279.4 L382.6,279.3 L381.6,279.2 L380.6,279.1 L379.6,279.0 L378.6,278.9 L377.6,278.9 L376.6,278.8 L375.6,278.7 L374.6,278.6 L373.6,278.5 L372.6,278.4 L371.6,278.3 L370.6,278.2 L369.6,278.1 L368.6,278.1 L367.7,278.0 L366.7,277.9 L365.7,277.8 L364.7,277.7 L363.7,277.7 L362.7,277.6 L361.7,277.5 L360.7,277.4 L359.7,277.3 L358.7,277.3 L357.7,277.2 L356.7,277.1 L355.7,277.0 L354.7,277.0 L353.7,276.9 L352.7,276.8 L351.7,276.8 L350.7,276.7 L349.7,276.6 L348.7,276.6 L347.7,276.5 L346.7,276.4 L345.7,276.4 L344.7,276.3 L343.7,276.2 L342.7,276.2 L341.8,276.1 L340.8,276.1 L339.8,276.0 L338.8,276.0 L337.8,275.9 L336.8,275.8 L335.8,275.8 L334.8,275.7 L333.8,275.7 L332.8,275.6 L331.8,275.6 L330.8,275.5 L329.8,275.5 L328.8,275.4 L327.8,275.4 L326.8,275.3 L325.8,275.3 L324.8,275.3 L323.8,275.2 L322.8,275.2 L321.8,275.1 L320.8,275.1 L319.8,275.1 L318.8,275.0 L317.8,275.0 L316.8,274.9 L315.8,274.9 L314.8,274.9 L313.8,274.8 L312.8,274.8 L311.8,274.8 L310.8,274.7 L309.8,274.7 L308.8,274.7 L307.8,274.7 L306.8,274.6 L305.8,274.6 L304.8,274.6 L303.8,274.6 L302.8,274.5 L301.8,274.5 L300.8,274.5 L299.8,274.5 L298.8,274.5 L297.8,274.5 L296.8,274.4 L295.8,274.4 L294.8,274.4 L293.8,274.4 L292.8,274.4 L291.8,274.4 L290.8,274.4 L289.8,274.4 L288.8,274.4 L287.8,274.3 L286.8,274.3 L285.8,274.3 L284.8,274.3 L283.8,274.3" stroke="#000078" stroke-width="2.8" fill="none" stroke-linecap="round" stroke-linejoin="round"/>
<line x1="274.3" y1="104.8" x2="330.9" y2="104.8" stroke="#000078" stroke-width="2.8" stroke-linecap="round"/>
<text x="344.8" y="112.8" class="t" style="font-size:25px;letter-spacing:0.45px">GC/NC</text>
</svg>
</body></html>
